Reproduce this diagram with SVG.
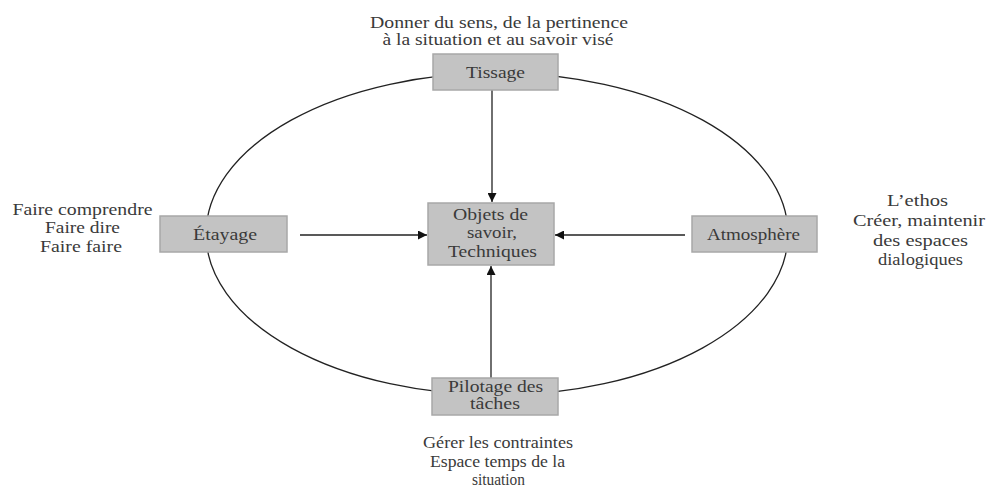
<svg xmlns="http://www.w3.org/2000/svg" width="986" height="489" viewBox="0 0 986 489">
<defs>
<style>
.box{fill:#c3c3c3;stroke:#a8a8a8;stroke-width:1.5}
.t{font-size:16px;fill:#3a3a3a;text-anchor:middle}
.ln{stroke:#222;stroke-width:1.3;fill:none}
</style>
<marker id="ah" viewBox="0 0 10 10" refX="10" refY="5" markerWidth="9" markerHeight="9" markerUnits="userSpaceOnUse" orient="auto">
<path d="M0,0 L10,5 L0,10 z" fill="#111"/>
</marker>
</defs>
<rect width="986" height="489" fill="#fff"/>
<g id="cycle">
<ellipse cx="497" cy="234" rx="291" ry="161" class="ln"/>
</g>
<g id="connectors">
<line x1="492" y1="90" x2="492" y2="202" class="ln" marker-end="url(#ah)"/>
<line x1="300" y1="235" x2="427" y2="235" class="ln" marker-end="url(#ah)"/>
<line x1="685" y1="235" x2="555" y2="235" class="ln" marker-end="url(#ah)"/>
<line x1="491" y1="378" x2="491" y2="266" class="ln" marker-end="url(#ah)"/>
</g>
<g font-family="'Liberation Serif', 'DejaVu Serif', 'Times New Roman', serif">
<g id="tissage">
<rect x="433" y="54" width="125" height="36" class="box"/>
<text x="495.5" y="78" class="t" textLength="59" lengthAdjust="spacingAndGlyphs">Tissage</text>
<text x="499" y="28" class="t" textLength="258" lengthAdjust="spacingAndGlyphs">Donner du sens, de la pertinence</text>
<text x="498" y="45" class="t" textLength="231" lengthAdjust="spacingAndGlyphs">à la situation et au savoir visé</text>
</g>
<g id="etayage">
<rect x="160" y="216" width="127" height="36" class="box"/>
<text x="225" y="240" class="t" textLength="64" lengthAdjust="spacingAndGlyphs">Étayage</text>
<text x="82.5" y="215" class="t" textLength="140" lengthAdjust="spacingAndGlyphs">Faire comprendre</text>
<text x="82.5" y="233" class="t" textLength="75" lengthAdjust="spacingAndGlyphs">Faire dire</text>
<text x="81" y="252" class="t" textLength="82" lengthAdjust="spacingAndGlyphs">Faire faire</text>
</g>
<g id="objets">
<rect x="428" y="203" width="126" height="62" class="box"/>
<text x="490.5" y="220" class="t" textLength="75" lengthAdjust="spacingAndGlyphs">Objets de</text>
<text x="492" y="238" class="t" textLength="50" lengthAdjust="spacingAndGlyphs">savoir,</text>
<text x="492.5" y="257" class="t" textLength="89" lengthAdjust="spacingAndGlyphs">Techniques</text>
</g>
<g id="atmosphere">
<rect x="692" y="216" width="125" height="36" class="box"/>
<text x="753.5" y="240" class="t" textLength="93" lengthAdjust="spacingAndGlyphs">Atmosphère</text>
<text x="917.5" y="206" class="t" textLength="61" lengthAdjust="spacingAndGlyphs">L’ethos</text>
<text x="919" y="226" class="t" textLength="132" lengthAdjust="spacingAndGlyphs">Créer, maintenir</text>
<text x="920.5" y="246" class="t" textLength="95" lengthAdjust="spacingAndGlyphs">des espaces</text>
<text x="920.5" y="265" class="t" textLength="85" lengthAdjust="spacingAndGlyphs">dialogiques</text>
</g>
<g id="pilotage">
<rect x="432" y="378" width="126" height="37" class="box"/>
<text x="495.5" y="392" class="t" textLength="95" lengthAdjust="spacingAndGlyphs">Pilotage des</text>
<text x="495" y="409" class="t" textLength="50" lengthAdjust="spacingAndGlyphs">tâches</text>
<text x="498" y="448" class="t" textLength="150" lengthAdjust="spacingAndGlyphs">Gérer les contraintes</text>
<text x="497.5" y="467" class="t" textLength="135" lengthAdjust="spacingAndGlyphs">Espace temps de la</text>
<text x="498.5" y="485" class="t" textLength="53" lengthAdjust="spacingAndGlyphs">situation</text>
</g>
</g>
</svg>
